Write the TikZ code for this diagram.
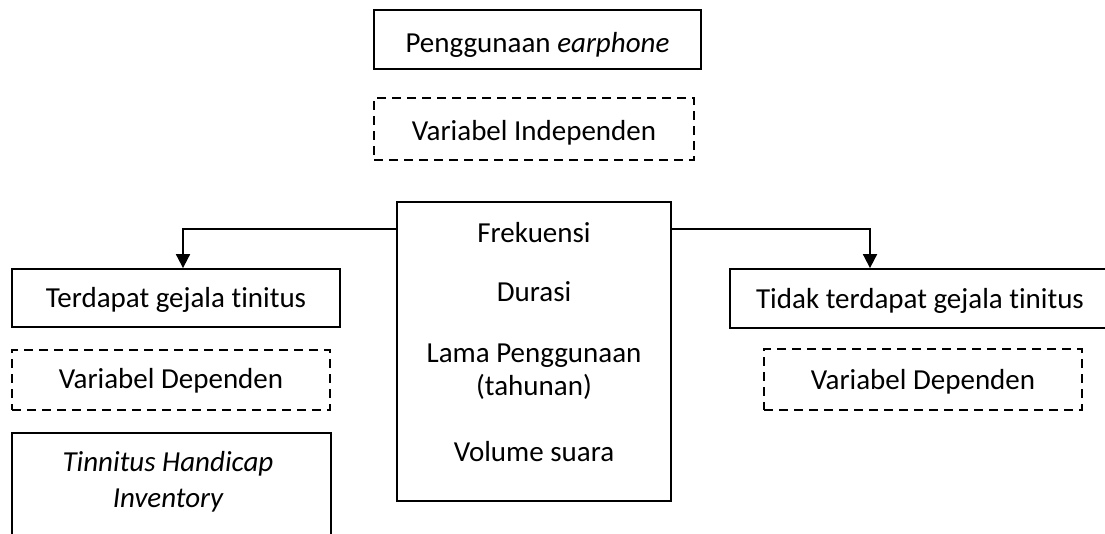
\documentclass[tikz,border=0pt]{standalone}
\usepackage{fontspec}
\setmainfont{Carlito}[Ligatures={NoCommon}]
\usetikzlibrary{arrows.meta}
\begin{document}
\begin{tikzpicture}[x=1pt,y=-1pt,
  box/.style={draw, line width=1.8pt, inner sep=0pt, rectangle},
  dbox/.style={box, dash pattern=on 9pt off 6pt},
  txt/.style={anchor=base, inner sep=0pt, font=\fontsize{29}{35}\selectfont},
  arr/.style={line width=1.8pt, -{Triangle[width=14pt,length=14pt]}}]
\useasboundingbox (0,0) rectangle (1105,533);
\clip (0,0) rectangle (1105,533);
% boxes
\node[box, minimum width=327pt, minimum height=59pt] (top) at (537.5,39.5) {};
\node[dbox, minimum width=320pt, minimum height=62pt] (ind) at (534,129) {};
\node[box, minimum width=274pt, minimum height=299pt] (mid) at (534,351.5) {};
\node[box, minimum width=328pt, minimum height=58pt] (tgl) at (176,298) {};
\node[dbox, minimum width=318pt, minimum height=60pt] (depL) at (171,380) {};
\node[box, minimum width=319pt, minimum height=140pt] (thi) at (171.5,503) {};
\node[box, minimum width=380pt, minimum height=59pt] (tdk) at (920,298.5) {};
\node[dbox, minimum width=318pt, minimum height=61pt] (depR) at (923,379.5) {};
% texts
\node[txt] (t1) at (537.5,52) {Penggunaan \textit{earphone}};
\node[txt] (t2) at (534,140) {Variabel Independen};
\node[txt] (t3) at (534,242) {Frekuensi};
\node[txt] (t4) at (534,301) {Durasi};
\node[txt] (t5) at (534,362) {Lama Penggunaan};
\node[txt] (t6) at (534,395) {(tahunan)};
\node[txt] (t7) at (534,461) {Volume suara};
\node[txt] (t8) at (176,307) {Terdapat gejala tinitus};
\node[txt] (t9) at (171,388) {Variabel Dependen};
\node[txt] (t10) at (168,471) {\itshape Tinnitus Handicap};
\node[txt] (t11) at (168,507) {\itshape Inventory};
\node[txt] (t12) at (920,308) {Tidak terdapat gejala tinitus};
\node[txt] (t13) at (923,389) {Variabel Dependen};
% connectors
\coordinate (yc) at (0,229);
\draw[arr] (mid.west |- yc) -| ([xshift=7pt]tgl.north);
\draw[arr] (mid.east |- yc) -| ([xshift=-50pt]tdk.north);
\end{tikzpicture}
\end{document}
